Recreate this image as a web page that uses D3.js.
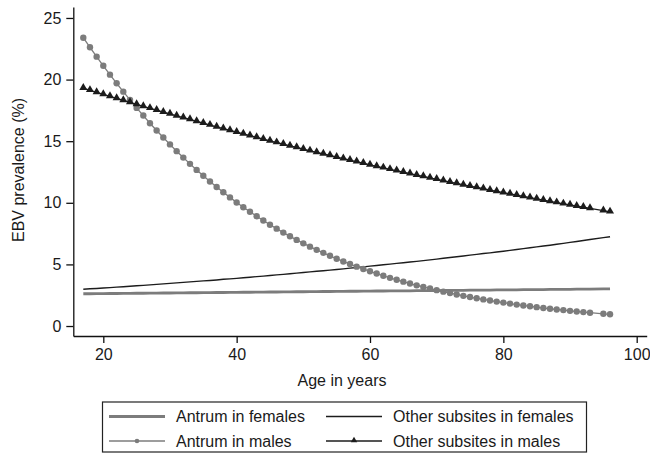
<!DOCTYPE html>
<html>
<head>
<meta charset="utf-8">
<script src="https://cdn.jsdelivr.net/npm/d3@7"></script>
<style>
  body { margin: 0; background: #fff; }
  svg { display: block; font-family: "Liberation Sans", Arial, sans-serif; }
</style>
</head>
<body>
<svg width="650" height="454"></svg>
<script>
// ages observed (no one aged 94)
const AGES = [17,18,19,20,21,22,23,24,25,26,27,28,29,30,31,32,33,34,35,36,37,38,39,40,
  41,42,43,44,45,46,47,48,49,50,51,52,53,54,55,56,57,58,59,60,61,62,63,64,65,66,67,68,69,70,
  71,72,73,74,75,76,77,78,79,80,81,82,83,84,85,86,87,88,89,90,91,92,93,95,96];

const ANTRUM_FEMALES = [2.62,2.62,2.63,2.63,2.64,2.64,2.65,2.65,2.66,2.66,2.67,2.67,2.68,2.68,2.69,2.69,
  2.70,2.70,2.71,2.71,2.72,2.72,2.73,2.73,2.74,2.74,2.75,2.75,2.76,2.76,2.77,2.77,2.78,2.78,2.79,2.79,
  2.80,2.80,2.81,2.81,2.82,2.82,2.83,2.83,2.84,2.84,2.85,2.85,2.86,2.86,2.87,2.87,2.88,2.88,2.89,2.89,
  2.90,2.90,2.91,2.91,2.92,2.92,2.93,2.93,2.94,2.94,2.95,2.95,2.96,2.96,2.97,2.97,2.98,2.98,2.99,2.99,
  3.00,3.01,3.02];

const ANTRUM_MALES = [23.40,22.62,21.86,21.12,20.40,19.70,19.02,18.35,17.70,17.08,16.46,15.87,15.30,14.74,
  14.19,13.67,13.16,12.67,12.19,11.73,11.28,10.85,10.44,10.03,9.64,9.27,8.91,8.56,8.22,7.90,7.58,7.28,
  6.99,6.71,6.44,6.18,5.94,5.70,5.46,5.24,5.03,4.82,4.63,4.44,4.26,4.08,3.91,3.75,3.60,3.45,3.30,3.17,
  3.04,2.91,2.79,2.67,2.56,2.45,2.35,2.25,2.16,2.07,1.98,1.90,1.82,1.74,1.67,1.60,1.53,1.46,1.40,1.34,
  1.29,1.23,1.18,1.13,1.08,0.99,0.95];

const OTHER_FEMALES = [2.98,3.02,3.05,3.08,3.12,3.16,3.19,3.23,3.27,3.30,3.34,3.38,3.42,3.46,3.50,3.54,
  3.58,3.62,3.66,3.70,3.74,3.79,3.83,3.87,3.92,3.96,4.01,4.05,4.10,4.15,4.19,4.24,4.29,4.34,4.39,4.44,
  4.49,4.54,4.59,4.64,4.70,4.75,4.80,4.86,4.91,4.97,5.02,5.08,5.14,5.20,5.25,5.31,5.37,5.43,5.50,5.56,
  5.62,5.68,5.75,5.81,5.88,5.94,6.01,6.07,6.14,6.21,6.28,6.35,6.42,6.49,6.56,6.64,6.71,6.79,6.86,6.94,
  7.02,7.17,7.25];

const OTHER_MALES = [19.30,19.13,18.96,18.80,18.63,18.47,18.31,18.15,17.99,17.83,17.67,17.52,17.36,17.21,
  17.06,16.91,16.76,16.61,16.46,16.31,16.16,16.02,15.87,15.73,15.59,15.45,15.31,15.17,15.03,14.89,14.76,
  14.62,14.49,14.36,14.22,14.09,13.96,13.84,13.71,13.58,13.46,13.33,13.21,13.08,12.96,12.84,12.72,12.60,
  12.48,12.37,12.25,12.14,12.02,11.91,11.80,11.68,11.57,11.46,11.35,11.25,11.14,11.03,10.93,10.82,10.72,
  10.62,10.52,10.42,10.32,10.22,10.12,10.02,9.92,9.83,9.73,9.64,9.55,9.36,9.27];

const X_TICKS = [20, 40, 60, 80, 100];
const Y_TICKS = [0, 5, 10, 15, 20, 25];
const LEGEND_LABELS = ['Antrum in females', 'Other subsites in females', 'Antrum in males', 'Other subsites in males'];

const GREY = '#7c7c7c';
const DARK = '#1c1c1c';

const svg = d3.select('svg');

const x = d3.scaleLinear().domain([15.5, 101.5]).range([73.3, 646.7]);
const y = d3.scaleLinear().domain([-0.81, 25.89]).range([336, 7]);

// axes
const xAxis = svg.append('g')
    .attr('transform', 'translate(0,336)')
    .call(d3.axisBottom(x).tickValues(X_TICKS).tickSize(7).tickSizeOuter(0).tickPadding(6));
const yAxis = svg.append('g')
    .attr('transform', 'translate(73.3,0)')
    .call(d3.axisLeft(y).tickValues(Y_TICKS).tickSize(7).tickSizeOuter(0).tickPadding(5));

[xAxis, yAxis].forEach(a => {
  a.select('.domain').attr('stroke', '#111').attr('stroke-width', 1.3);
  a.selectAll('.tick line').attr('stroke', '#111').attr('stroke-width', 1.3);
  a.selectAll('.tick text').attr('fill', '#1a1a1a').style('font-size', '16px')
    .style('font-family', '"Liberation Sans", Arial, sans-serif');
});

svg.append('text')
    .attr('x', 342).attr('y', 386)
    .attr('text-anchor', 'middle')
    .style('font-size', '16px').attr('fill', '#1a1a1a')
    .text('Age in years');

svg.append('text')
    .attr('transform', 'translate(24,170) rotate(-90)')
    .attr('text-anchor', 'middle')
    .style('font-size', '16px').attr('fill', '#1a1a1a')
    .text('EBV prevalence (%)');

const line = d3.line().x(d => x(d[0])).y(d => y(d[1]));
const pairs = vals => AGES.map((a, i) => [a, vals[i]]);

// antrum in females: thick grey line
svg.append('path').datum(pairs(ANTRUM_FEMALES))
    .attr('d', line).attr('fill', 'none').attr('stroke', GREY).attr('stroke-width', 2.8);

// other subsites in females: thin dark line
svg.append('path').datum(pairs(OTHER_FEMALES))
    .attr('d', line).attr('fill', 'none').attr('stroke', DARK).attr('stroke-width', 1.4);

// antrum in males: grey line + circles
svg.append('path').datum(pairs(ANTRUM_MALES))
    .attr('d', line).attr('fill', 'none').attr('stroke', GREY).attr('stroke-width', 1.3);
svg.append('g').selectAll('circle')
    .data(pairs(ANTRUM_MALES))
    .enter()
    .append('circle')
    .attr('cx', d => x(d[0]))
    .attr('cy', d => y(d[1]))
    .attr('r', 3.2)
    .attr('fill', GREY);

// other subsites in males: dark line + triangles
const tri = d3.symbol().type(d3.symbolTriangle).size(28);
svg.append('path').datum(pairs(OTHER_MALES))
    .attr('d', line).attr('fill', 'none').attr('stroke', DARK).attr('stroke-width', 1.3);
svg.append('g').selectAll('path')
    .data(pairs(OTHER_MALES))
    .enter()
    .append('path')
    .attr('d', tri)
    .attr('transform', d => `translate(${x(d[0])},${y(d[1]) - 0.5})`)
    .attr('fill', DARK);

// legend
const legend = svg.append('g');
legend.append('rect')
    .attr('x', 102.5).attr('y', 402).attr('width', 484).attr('height', 50)
    .attr('fill', '#fff').attr('stroke', '#222').attr('stroke-width', 1.2);

const legendItems = [
  { label: LEGEND_LABELS[0], col: 0, row: 0, color: GREY, width: 2.8, marker: null },
  { label: LEGEND_LABELS[1], col: 1, row: 0, color: DARK, width: 1.4, marker: null },
  { label: LEGEND_LABELS[2], col: 0, row: 1, color: GREY, width: 1.3, marker: 'circle' },
  { label: LEGEND_LABELS[3], col: 1, row: 1, color: DARK, width: 1.3, marker: 'triangle' }
];
const colX = [109, 326];
const rowY = [416.5, 441];

legendItems.forEach(it => {
  const x0 = colX[it.col], yy = rowY[it.row];
  legend.append('line')
      .attr('x1', x0).attr('x2', x0 + 56).attr('y1', yy).attr('y2', yy)
      .attr('stroke', it.color).attr('stroke-width', it.width);
  if (it.marker === 'circle') {
    legend.append('circle').attr('cx', x0 + 28).attr('cy', yy).attr('r', 2.3).attr('fill', it.color);
  } else if (it.marker === 'triangle') {
    legend.append('path').attr('d', d3.symbol().type(d3.symbolTriangle).size(18))
        .attr('transform', `translate(${x0 + 28},${yy - 0.5})`).attr('fill', it.color);
  }
  legend.append('text')
      .attr('x', x0 + 67).attr('y', yy + 5.5)
      .style('font-size', '16px').attr('fill', '#1a1a1a')
      .text(it.label);
});
</script>
</body>
</html>
